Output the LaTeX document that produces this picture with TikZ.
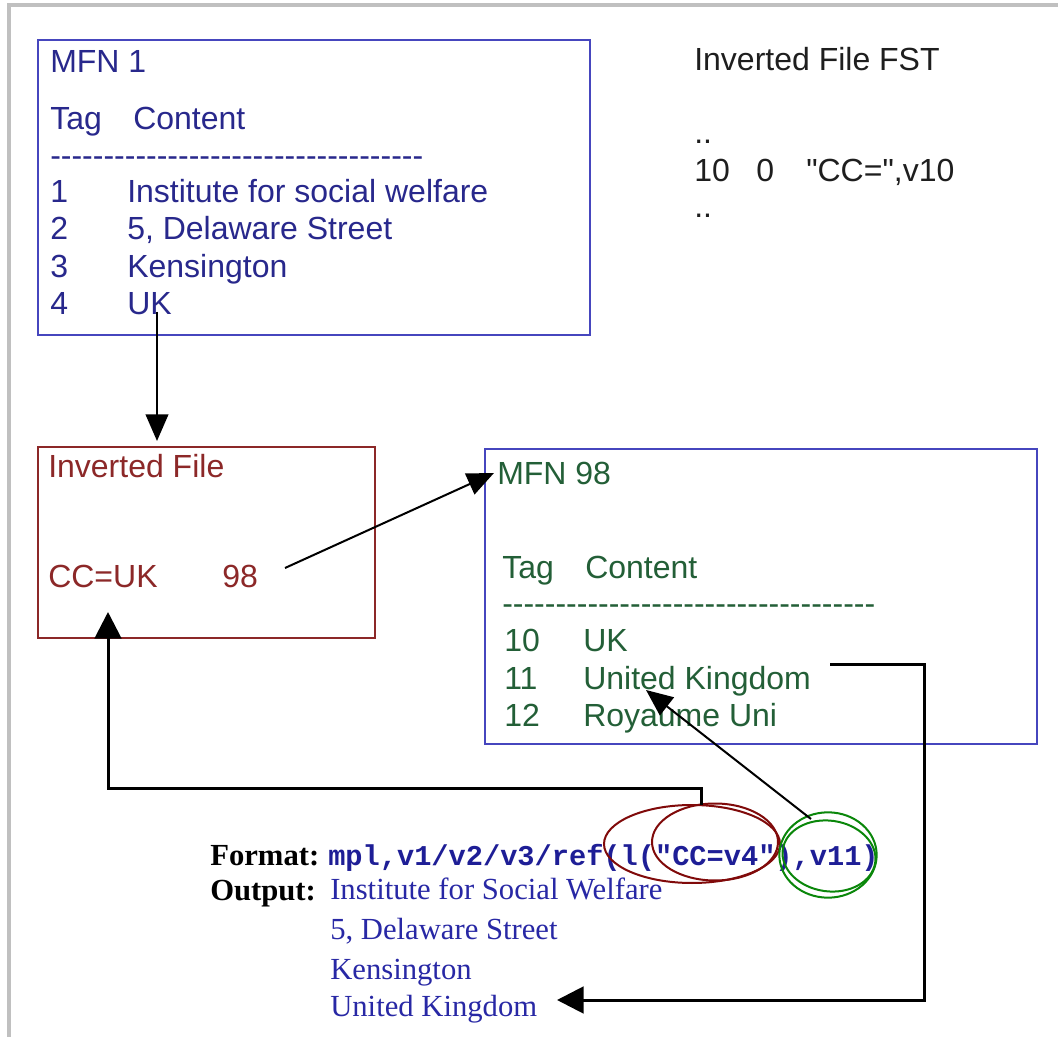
\documentclass[tikz,border=0pt]{standalone}
\usepackage{fontspec}
\setmainfont{Liberation Sans}[Ligatures=TeXOff]
\newfontfamily\serifF{Liberation Serif}[Ligatures=TeXOff]
\newfontfamily\monoF{Liberation Mono}[Ligatures=TeXOff]
\usetikzlibrary{arrows.meta,shapes.geometric}
\definecolor{framegray}{RGB}{192,192,192}
\definecolor{boxblue}{RGB}{70,70,190}
\definecolor{txtblue}{RGB}{40,40,140}
\definecolor{boxred}{RGB}{140,40,40}
\definecolor{txtgreen}{RGB}{35,95,55}
\definecolor{txtdark}{RGB}{30,30,30}
\definecolor{codeblue}{RGB}{30,30,150}
\definecolor{outblue}{RGB}{40,40,165}
\definecolor{ellred}{RGB}{128,10,10}
\definecolor{ellgreen}{RGB}{10,135,10}
\tikzset{
  panel/.style={draw=#1, line width=1.5pt, anchor=north west, inner sep=0pt},
  txt/.style={anchor=base west, inner sep=0pt, font=\fontsize{24}{28}\selectfont},
  sertxt/.style={anchor=base west, inner sep=0pt, font=\serifF\fontsize{23}{27}\selectfont},
  ring/.style={draw=#1, ellipse, line width=1.5pt, inner sep=0pt},
  thinarrow/.style={line width=1.5pt, -{Triangle[length=20pt,width=17pt]}},
  thickarrow/.style={line width=2.25pt, -{Triangle[length=20pt,width=20pt]}},
}
\begin{document}
\begin{tikzpicture}[x=0.75pt,y=-0.75pt]
\useasboundingbox (0,0) rectangle (1058,1037);
\fill[white] (0,0) rectangle (1058,1037);
\draw[framegray, line width=3pt] (9,1037) -- (9,5) -- (1058,5);

% panels
\node[panel=boxblue, minimum width=414pt, minimum height=221.25pt] (mfn1) at (37,39) {};
\node[panel=boxred, minimum width=252.75pt, minimum height=143.25pt] (inv) at (37,446) {};
\node[panel=boxblue, minimum width=414pt, minimum height=221.25pt] (mfn98) at (484,448) {};

% MFN 1 text
\begin{scope}[every node/.style={txt, text=txtblue}]
\node (m1t) at (50,73) {MFN 1};
\node (m1tag) at (50,130) {Tag};
\node (m1con) at (133,130) {Content};
\node (m1dash) at (50,167) {-----------------------------------};
\node (m1n1) at (50,203) {1};
\node (m1v1) at (127,203) {Institute for social welfare};
\node (m1n2) at (50,240) {2};
\node (m1v2) at (127,240) {5, Delaware Street};
\node (m1n3) at (50,278) {3};
\node (m1v3) at (127,278) {Kensington};
\node (m1n4) at (50,315) {4};
\node (m1v4) at (127,315) {UK};
\end{scope}

% FST
\begin{scope}[every node/.style={txt, text=txtdark}]
\node (fstt) at (694,71) {Inverted File FST};
\node (fstd1) at (694,144) {..};
\node (fsta) at (694,182) {10};
\node (fstb) at (756,182) {0};
\node (fstc) at (806,182) {"CC=",v10};
\node (fstd2) at (694,218) {..};
\end{scope}

% Inverted file text
\begin{scope}[every node/.style={txt, text=boxred}]
\node (invt) at (48,478) {Inverted File};
\node (invk) at (48,588) {CC=UK};
\node (invm) at (222,588) {98};
\end{scope}

% MFN 98 text
\begin{scope}[every node/.style={txt, text=txtgreen}]
\node (m98t) at (497,485) {MFN 98};
\node (m98tag) at (502,579) {Tag};
\node (m98con) at (585,579) {Content};
\node (m98dash) at (502,615) {-----------------------------------};
\node (m98n1) at (504,652) {10};
\node (m98v1) at (583,652) {UK};
\node (m98n2) at (504,690) {11};
\node (m98v2) at (583,690) {United Kingdom};
\node (m98n3) at (504,727) {12};
\node (m98v3) at (583,727) {Royaume Uni};
\end{scope}

% Format / Output
\node[sertxt, font=\serifF\bfseries\fontsize{23}{27}\selectfont] (fmtl) at (210,865) {Format:};
\node[anchor=base west, inner sep=0pt, text=codeblue, font=\monoF\bfseries\fontsize{21.5}{26}\selectfont] (code) at (328,865) {mpl,v1/v2/v3/ref(l("CC=v4"),v11)};
\node[sertxt, font=\serifF\bfseries\fontsize{23}{27}\selectfont] (outl) at (210,900) {Output:};
\begin{scope}[every node/.style={sertxt, text=outblue}]
\node (o1) at (330,899) {Institute for Social Welfare};
\node (o2) at (330,939) {5, Delaware Street};
\node (o3) at (330,979) {Kensington};
\node (o4) at (330,1016) {United Kingdom};
\end{scope}

% rings
\node[ring=ellred, minimum width=132pt, minimum height=58.5pt] (redA) at (692,844) {};
\node[ring=ellred, minimum width=94.5pt, minimum height=57.75pt] (redB) at (715,842) {};
\node[ring=ellgreen, minimum width=73pt, minimum height=64pt] (grnA) at (828,855) {};
\node[ring=ellgreen, minimum width=70pt, minimum height=53pt, rotate=-8] (grnB) at (829,856) {};

% connector points
\coordinate (ukfoot) at (157,312);
\coordinate (invtop) at (157,441);
\coordinate (num98) at (285,568);
\coordinate (mfn98tip) at (494,473);
\coordinate (grnstart) at (811,819);
\coordinate (kingtip) at (646,690);
\coordinate (redstart) at (701,805);
\coordinate (invbot) at (108,612);
\coordinate (kingend) at (830,665);
\coordinate (outtip) at (557,1000);

\draw[thinarrow] (ukfoot) -- (invtop);
\draw[thinarrow] (num98) -- (mfn98tip);
\draw[thinarrow] (grnstart) -- (kingtip);
\draw[thickarrow] (redstart) -- (701,788) -- (108,788) -- (invbot);
\draw[thickarrow] (kingend) -- (924,665) -- (924,1000) -- (outtip);
\end{tikzpicture}
\end{document}
